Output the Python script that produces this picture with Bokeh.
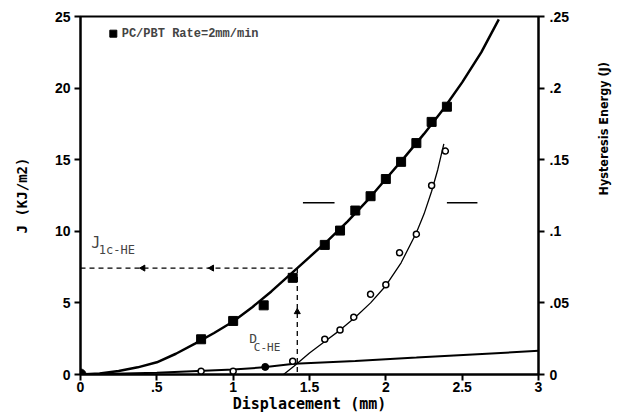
import math
from bokeh.plotting import figure
from bokeh.models import (Range1d, LinearAxis, FixedTicker, CustomJSTickFormatter, Label)
from bokeh.embed import file_html
from bokeh.resources import INLINE

# J-integral measurements (PC/PBT, 2 mm/min)
j_disp = [0.79, 1.0, 1.2, 1.39, 1.60, 1.70, 1.80, 1.90, 2.00, 2.10, 2.20, 2.30, 2.40]
j_vals = [2.46, 3.74, 4.83, 6.75, 9.05, 10.05, 11.45, 12.45, 13.65, 14.85, 16.16, 17.64, 18.7]

# fitted J-resistance curve
j_fit_disp = [0, 0.125, 0.25, 0.375, 0.5, 0.625, 0.75, 0.875, 1.0, 1.125, 1.25, 1.42,
              1.5, 1.625, 1.75, 1.875, 2.0, 2.125, 2.25, 2.375, 2.5, 2.625, 2.74]
j_fit_vals = [0, 0.07, 0.25, 0.5, 0.85, 1.45, 2.15, 2.9, 3.7, 4.7, 5.8, 7.43,
              8.2, 9.4, 10.7, 12.1, 13.65, 15.2, 16.8, 18.5, 20.4, 22.5, 24.8]

# hysteresis energy measurements (J)
he_disp = [0.79, 1.0, 1.39, 1.60, 1.70, 1.79, 1.90, 2.00, 2.09, 2.20, 2.30, 2.39]
he_vals = [0.0023, 0.0023, 0.0092, 0.0246, 0.031, 0.040, 0.056, 0.0627, 0.085, 0.098, 0.132, 0.156]
he_solid_disp = [1.21]
he_solid_vals = [0.0053]

# fitted hysteresis energy curve
he_fit_disp = [1.33, 1.4, 1.5, 1.6, 1.7, 1.8, 1.9, 2.0, 2.1, 2.2, 2.25, 2.3, 2.34, 2.38]
he_fit_vals = [0.0, 0.006, 0.015, 0.023, 0.031, 0.040, 0.050, 0.062, 0.078, 0.099, 0.112,
               0.128, 0.143, 0.161]

# low baseline energy line
base_disp = [0, 0.5, 1.0, 1.2, 1.4, 1.8, 2.2, 2.6, 3.0]
base_vals = [0, 0.0012, 0.0035, 0.005, 0.0075, 0.0095, 0.0118, 0.0142, 0.0165]

# critical point construction
jc_value = 7.43
dc_value = 1.42

x_ticks = [0, 0.5, 1, 1.5, 2, 2.5, 3]
y_ticks = [0, 5, 10, 15, 20, 25]
he_ticks = [0, 0.05, 0.1, 0.15, 0.2, 0.25]

MONO = "DejaVu Sans Mono"
TICK_FONT = "Liberation Sans"
NARROW = "Liberation Sans Narrow, DejaVu Sans Condensed, sans-serif"

p = figure(width=621, height=415, x_range=Range1d(0, 3), y_range=Range1d(0, 25),
           output_backend="svg", toolbar_location=None,
           min_border_left=80, min_border_right=81, min_border_top=16, min_border_bottom=39)
p.extra_y_ranges = {"he": Range1d(0, 0.25)}
p.xgrid.visible = False
p.ygrid.visible = False
p.outline_line_color = "black"
p.outline_line_width = 2
p.background_fill_color = "white"
p.border_fill_color = "white"

fmt = CustomJSTickFormatter(code="""
if (tick == 0) { return "0"; }
var s = String(Math.round(tick * 1000) / 1000);
return s.replace(/^0\\./, ".");
""")

# bottom axis
xa = p.xaxis[0]
xa.ticker = FixedTicker(ticks=x_ticks)
xa.formatter = fmt
xa.axis_label = "Displacement (mm)"

# left axis
ya = p.yaxis[0]
ya.ticker = FixedTicker(ticks=y_ticks)
ya.axis_label = "J (KJ/m2)"

# right axis for hysteresis energy (ticks only)
ra = LinearAxis(y_range_name="he", ticker=FixedTicker(ticks=he_ticks), formatter=fmt)
p.add_layout(ra, "right")

for ax in (xa, ya, ra):
    ax.axis_line_width = 2
    ax.major_tick_line_width = 2
    ax.major_tick_out = 6
    ax.major_tick_in = 0
    ax.minor_tick_out = 0
    ax.minor_tick_in = 0
    ax.major_label_text_font = TICK_FONT
    ax.major_label_text_font_style = "bold"
    ax.major_label_text_font_size = "14px"
    ax.major_label_text_color = "black"
    ax.axis_label_text_font_style = "bold"
    ax.axis_label_text_color = "black"

xa.axis_label_text_font = MONO
xa.axis_label_text_font_size = "15px"
xa.major_label_standoff = 1
xa.axis_label_standoff = 0

ya.axis_label_text_font = MONO
ya.axis_label_text_font_size = "14px"
ya.major_label_standoff = 4
ya.axis_label_standoff = 22

ra.major_label_standoff = 5

# title of the hysteresis-energy axis, on a bare axis outside the ticked one
ra_title = LinearAxis(y_range_name="he", ticker=FixedTicker(ticks=[]),
                      axis_label="Hysteresis Energy (J)", axis_line_alpha=0,
                      major_tick_out=0, major_tick_in=0, minor_tick_out=0, minor_tick_in=0,
                      axis_label_text_font=NARROW, axis_label_text_font_style="bold",
                      axis_label_text_font_size="12.5px", axis_label_text_color="black",
                      axis_label_standoff=32)
if hasattr(ra_title, "axis_label_orientation"):
    ra_title.axis_label_orientation = math.pi / 2
p.add_layout(ra_title, "right")

# curves
p.line(j_fit_disp, j_fit_vals, line_color="black", line_width=2.5)
p.line(base_disp, base_vals, y_range_name="he", line_color="black", line_width=2)
p.line(he_fit_disp, he_fit_vals, y_range_name="he", line_color="black", line_width=1.3)

# critical-point dashed construction
p.line([0, dc_value], [jc_value, jc_value], line_color="black", line_width=1.3, line_dash="5 4")
p.line([dc_value, dc_value], [jc_value, 0], line_color="black", line_width=1.3, line_dash="5 4")
p.scatter([0.41, 0.86], [jc_value, jc_value], marker="triangle", angle=1.5708,
          size=6, color="black")
p.scatter([dc_value], [4.37], marker="triangle", size=6, color="black")

# short reference marks
p.line([1.457, 1.664], [12.0, 12.0], line_color="black", line_width=1.5)
p.line([2.40, 2.60], [12.0, 12.0], line_color="black", line_width=1.5)

# markers
p.scatter(j_disp, j_vals, marker="square", size=9, color="black")
p.scatter(he_disp, he_vals, y_range_name="he", marker="circle", size=6,
          fill_color="white", line_color="black", line_width=1.5)
p.scatter(he_solid_disp, he_solid_vals, y_range_name="he", marker="circle", size=7,
          color="black")
p.scatter([0], [0], marker="circle", size=11, color="black")

# legend
p.scatter([0.215], [23.8], marker="square", size=7, color="black")
p.add_layout(Label(x=0.27, y=23.8, text="PC/PBT Rate=2mm/min", text_font="Liberation Mono",
                   text_font_style="bold", text_font_size="12px", text_baseline="middle"))

# annotation labels
p.add_layout(Label(x=0.07, y=9.2, text="J", text_font=MONO, text_font_size="15px",
                   text_baseline="middle"))
p.add_layout(Label(x=0.12, y=8.7, text="1c-HE", text_font=MONO, text_font_size="12px",
                   text_baseline="middle"))
p.add_layout(Label(x=1.105, y=2.5, text="D", text_font=MONO, text_font_size="13px",
                   text_baseline="middle"))
p.add_layout(Label(x=1.135, y=1.9, text="C-HE", text_font=MONO, text_font_size="11px",
                   text_baseline="middle"))

open("out.html", "w").write(file_html(p, INLINE))
